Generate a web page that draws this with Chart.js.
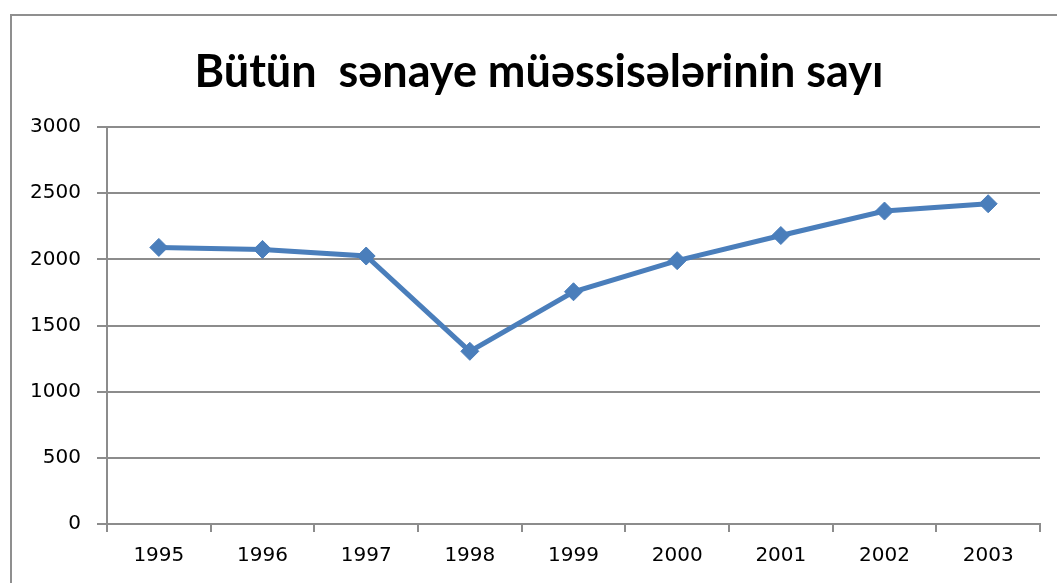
<!DOCTYPE html>
<html>
<head>
<meta charset="utf-8">
<script src="https://cdn.jsdelivr.net/npm/chart.js@4.4.1/dist/chart.umd.min.js"></script>
<style>
    html, body { margin: 0; padding: 0; background: #fff; }
    #wadah { width: 1057px; height: 583px; }
</style>
</head>
<body>
<div id="wadah"><canvas id="grafik"></canvas></div>
<script>
const judul = "Bütün  sənaye müəssisələrinin sayı";
const tahun = ["1995", "1996", "1997", "1998", "1999", "2000", "2001", "2002", "2003"];
const jumlah = [2090, 2075, 2025, 1305, 1755, 1990, 2180, 2365, 2420];
const tickY = [0, 500, 1000, 1500, 2000, 2500, 3000];

const warnaGaris = "#4a7ebb";
const warnaGrid = "#8c8c8c";

// bingkai abu-abu + judul di tengah bingkai (seperti chart Excel)
const bingkai = {
    id: "bingkai",
    beforeDraw(chart) {
        const ctx = chart.ctx;
        ctx.save();
        ctx.fillStyle = "#fff";
        ctx.fillRect(0, 0, chart.width, chart.height);
        ctx.strokeStyle = "#8f8f8f";
        ctx.lineWidth = 2;
        ctx.strokeRect(11, 15, chart.width + 50, chart.height + 50);

        ctx.fillStyle = "#000";
        ctx.font = "bold 45px Lato";
        ctx.textAlign = "center";
        ctx.textBaseline = "middle";
        ctx.fillText(judul, 539, 72);
        ctx.restore();
    },
};

new Chart(document.getElementById("grafik"), {
    type: "line",
    data: {
        labels: tahun,
        datasets: [
            {
                data: jumlah,
                borderColor: warnaGaris,
                backgroundColor: warnaGaris,
                borderWidth: 5,
                pointStyle: "rectRot",
                pointRadius: 9,
                pointBorderWidth: 1,
                tension: 0,
            },
        ],
    },
    options: {
        responsive: true,
        maintainAspectRatio: false,
        animation: false,
        layout: {
            padding: { left: 0, right: 17, top: 127, bottom: 0 },
        },
        plugins: {
            legend: { display: false },
            tooltip: { enabled: false },
            title: { display: false },
        },
        scales: {
            x: {
                offset: true,
                grid: {
                    offset: true,
                    drawOnChartArea: false,
                    drawTicks: true,
                    tickLength: 8,
                    color: warnaGrid,
                    lineWidth: 2,
                },
                border: { color: warnaGrid, width: 2 },
                ticks: {
                    color: "#000",
                    padding: 12,
                    maxRotation: 0,
                    font: { family: "DejaVu Sans", size: 20 },
                },
                afterFit(scale) {
                    scale.height = 59;
                },
            },
            y: {
                min: 0,
                max: 3000,
                afterBuildTicks(scale) {
                    scale.ticks = tickY.map((v) => ({ value: v }));
                },
                grid: {
                    color: warnaGrid,
                    lineWidth: 2,
                    tickLength: 10,
                },
                border: { color: warnaGrid, width: 2 },
                ticks: {
                    color: "#000",
                    padding: 16,
                    font: { family: "DejaVu Sans", size: 20 },
                    callback: (nilai) => String(nilai),
                },
                afterFit(scale) {
                    scale.width = 107;
                },
            },
        },
    },
    plugins: [bingkai],
});
</script>
</body>
</html>
